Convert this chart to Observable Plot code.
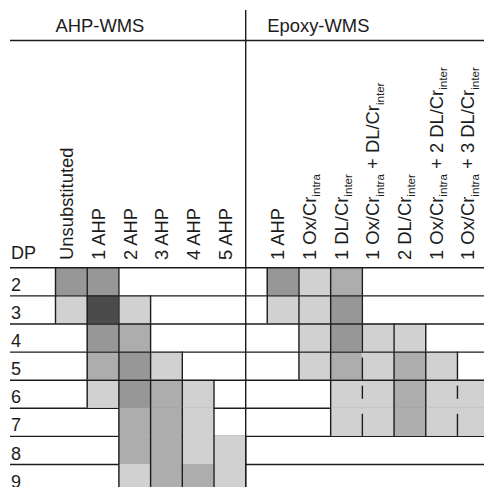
<!DOCTYPE html>
<html>
<head>
<meta charset="utf-8">
<script src="https://cdn.jsdelivr.net/npm/d3@7"></script>
<script src="https://cdn.jsdelivr.net/npm/@observablehq/plot@0.6"></script>
<style>
  html, body { margin: 0; padding: 0; background: #fff; overflow: hidden; }
</style>
</head>
<body>
<div id="chart"></div>
<script>
// ---------------- data ----------------
const dpRows = [2, 3, 4, 5, 6, 7, 8, 9];
const groupLabels = ["AHP-WMS", "Epoxy-WMS"];
const ahpColumns = ["Unsubstituted", "1 AHP", "2 AHP", "3 AHP", "4 AHP", "5 AHP"];
const epoxyColumns = [
  "1 AHP",
  "1 Ox/Cr_{intra}",
  "1 DL/Cr_{inter}",
  "1 Ox/Cr_{intra} + DL/Cr_{inter}",
  "2 DL/Cr_{inter}",
  "1 Ox/Cr_{intra} + 2 DL/Cr_{inter}",
  "1 Ox/Cr_{intra} + 3 DL/Cr_{inter}"
];
// shade level per DP row: 0 empty, 1 light, 2 medium, 3 dark, 4 darkest
const ahpLevels = [
  [3, 3, 0, 0, 0, 0], // DP 2
  [1, 4, 1, 0, 0, 0], // DP 3
  [0, 3, 2, 0, 0, 0], // DP 4
  [0, 2, 3, 1, 0, 0], // DP 5
  [0, 1, 3, 2, 1, 0], // DP 6
  [0, 0, 2, 2, 1, 0], // DP 7
  [0, 0, 2, 2, 1, 1], // DP 8
  [0, 0, 1, 2, 2, 1]  // DP 9
];
const epoxyLevels = [
  [3, 1, 2, 0, 0, 0, 0], // DP 2
  [1, 1, 3, 0, 0, 0, 0], // DP 3
  [0, 1, 3, 1, 1, 0, 0], // DP 4
  [0, 1, 2, 1, 2, 1, 0], // DP 5
  [0, 0, 1, 1, 2, 1, 1], // DP 6
  [0, 0, 1, 1, 2, 1, 1], // DP 7
  [0, 0, 0, 0, 0, 0, 0], // DP 8
  [0, 0, 0, 0, 0, 0, 0]  // DP 9
];
// separator lines drawn interrupted in the original: [epoxy boundary index, DP]
const brokenEdges = [[3, 5], [3, 6], [3, 7], [6, 6], [6, 7]];

// ---------------- styling / layout ----------------
const shades = [null, "#d1d1d1", "#acadac", "#969796", "#4b4b4b"];
const INK = "#1c1c1c";
const FONT = "'Liberation Sans', Arial, Helvetica, sans-serif";
const W = 484, H = 487;
const X0 = 55, COLW = 31.7;          // first column left edge, column width (px)
const ROW0 = 267.3, ROWH = 28.1;     // first row top, row height (px)
const EPOXY_OFFSET = 6.68;           // epoxy section start, in column units
const LEFT = (10 - X0) / COLW;       // left end of rules, in column units
const RIGHT = (W + 10 - X0) / COLW;
const rowUnits = px => (px - ROW0) / ROWH;

// ---------------- derived tables ----------------
const cells = [];
const edges = [];
function addSection(levels, offset, section) {
  levels.forEach((row, r) => {
    row.forEach((lv, c) => {
      if (lv) cells.push({x1: offset + c, x2: offset + c + 1, y1: r, y2: r + 1, fill: shades[lv]});
    });
    for (let b = 0; b <= row.length; b++) {
      const l = b > 0 ? row[b - 1] : 0;
      const rr = b < row.length ? row[b] : 0;
      if (!(l || rr)) continue;
      let broken = null;
      if (section === "epoxy") {
        const hit = brokenEdges.find(([bb, dp]) => bb === b && dp === dpRows[r]);
        if (hit) broken = hit[1] === 6 ? "both" : "top";
      }
      edges.push({x: offset + b, y1: r, y2: r + 1, broken});
    }
  });
}
addSection(ahpLevels, 0, "ahp");
addSection(epoxyLevels, EPOXY_OFFSET, "epoxy");

const boundaries = dpRows.map((d, i) => i); // top of each DP row
const upperBounds = boundaries.filter(b => b <= 4);
const lowerBounds = boundaries.filter(b => b > 4);

const colLabels = [
  ...ahpColumns.map((t, i) => ({t, x: i + 0.5, dx: 2})),
  ...epoxyColumns.map((t, j) => ({t, x: EPOXY_OFFSET + j + 0.5, dx: 1}))
];

const lineOpts = {stroke: INK, strokeWidth: 1.4};

const chart = Plot.plot({
  width: W,
  height: H,
  margin: 0,
  style: {fontFamily: FONT, fontSize: "18px", background: "#fff", overflow: "hidden"},
  x: {type: "linear", domain: [0, 1], range: [X0, X0 + COLW], axis: null},
  y: {type: "linear", domain: [0, 1], range: [ROW0, ROW0 + ROWH], axis: null},
  color: {type: "identity"},
  marks: [
    // lower row rules (hidden beneath filled cells)
    Plot.ruleY(lowerBounds, {y: d => d, x1: () => LEFT, x2: () => RIGHT, ...lineOpts}),
    // cells
    Plot.rect(cells, {x1: "x1", x2: "x2", y1: "y1", y2: "y2", fill: "fill"}),
    // upper row rules (drawn over the cells)
    Plot.ruleY(upperBounds, {y: d => d, x1: () => LEFT, x2: () => RIGHT, ...lineOpts}),
    // header rule
    Plot.ruleY([rowUnits(40)], {y: d => d, x1: () => LEFT, x2: () => RIGHT, ...lineOpts}),
    // vertical cell separators
    Plot.ruleX(edges.filter(e => !e.broken), {x: "x", y1: "y1", y2: "y2", ...lineOpts}),
    Plot.ruleX(edges.filter(e => e.broken === "top"), {x: "x", y1: "y1", y2: "y2", insetTop: 6, ...lineOpts}),
    Plot.ruleX(edges.filter(e => e.broken === "both"), {x: "x", y1: "y1", y2: "y2", insetTop: 6, insetBottom: 9, ...lineOpts}),
    // section divider
    Plot.ruleX([6], {x: d => d, y1: () => rowUnits(10), y2: () => 9, ...lineOpts}),
    // group headers
    Plot.text(groupLabels, {
      x: (d, i) => [0, EPOXY_OFFSET][i], y: () => rowUnits(31.7), text: d => d,
      textAnchor: "start", lineAnchor: "bottom", fontSize: 18.4, fill: INK
    }),
    // DP label and row labels
    Plot.text(["DP"], {x: () => LEFT, y: () => rowUnits(258.3), text: d => d, dx: 0.5,
      textAnchor: "start", lineAnchor: "bottom", fontSize: 18, fill: INK}),
    Plot.text(dpRows, {x: () => LEFT, y: (d, i) => i + 1, text: d => String(d), dx: 0.5, dy: -5,
      textAnchor: "start", lineAnchor: "bottom", fontSize: 18, fill: INK}),
    // rotated column labels
    Plot.text(colLabels.filter(d => d.dx === 2), {x: "x", y: () => rowUnits(259.5), text: "t", rotate: -90, dx: 2,
      textAnchor: "start", lineAnchor: "bottom", fontSize: 18.4, fill: INK}),
    Plot.text(colLabels.filter(d => d.dx === 1), {x: "x", y: () => rowUnits(259.5), text: "t", rotate: -90, dx: 1,
      textAnchor: "start", lineAnchor: "bottom", fontSize: 18.4, fill: INK})
  ]
});

// turn "_{...}" markers into real subscript tspans
const NS = "http://www.w3.org/2000/svg";
chart.querySelectorAll("text").forEach(t => {
  const s = t.textContent;
  if (!s.includes("_{")) return;
  while (t.firstChild) t.removeChild(t.firstChild);
  const parts = s.split(/_\{([^}]*)\}/);
  let shifted = false;
  parts.forEach((p, k) => {
    if (p === "") return;
    const ts = document.createElementNS(NS, "tspan");
    ts.textContent = p;
    if (k % 2 === 1) {
      ts.setAttribute("font-size", "11.6");
      ts.setAttribute("dy", "4.5");
      shifted = true;
    } else if (shifted) {
      ts.setAttribute("dy", "-4.5");
      shifted = false;
    }
    t.appendChild(ts);
  });
});

document.getElementById("chart").appendChild(chart);
</script>
</body>
</html>
